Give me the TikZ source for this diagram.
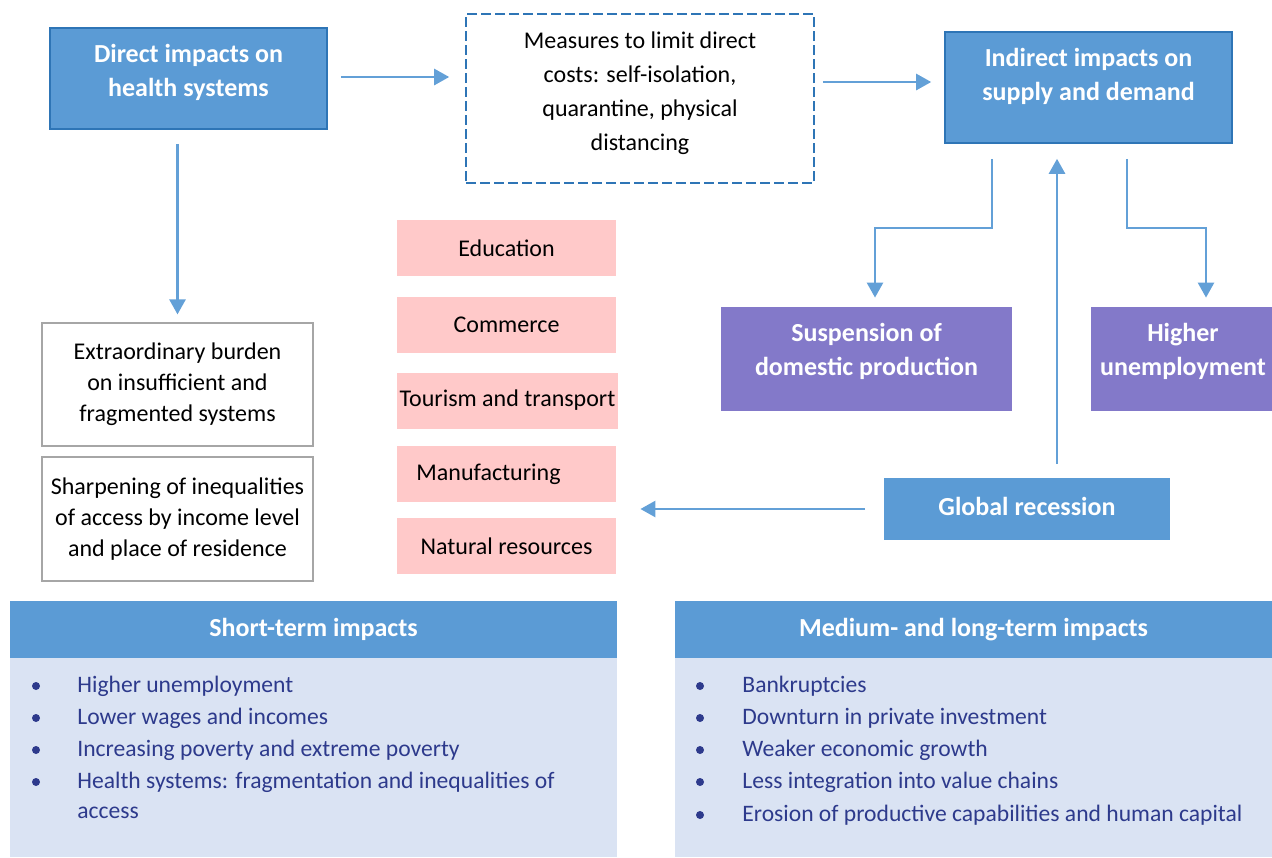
\documentclass[tikz,border=0pt]{standalone}
\usepackage{fontspec}
\setmainfont{Carlito}
\usetikzlibrary{arrows.meta, positioning}

\definecolor{boxblue}{RGB}{91,155,213}
\definecolor{edgeblue}{RGB}{46,117,182}
\definecolor{arrowblue}{RGB}{99,160,215}
\definecolor{purplebox}{RGB}{131,121,201}
\definecolor{pinkbox}{RGB}{255,201,201}
\definecolor{paleblue}{RGB}{218,227,243}
\definecolor{navytext}{RGB}{45,58,140}
\definecolor{greyline}{RGB}{166,166,166}

\begin{document}
\begin{tikzpicture}[x=0.5pt, y=-0.5pt]
        \tikzset{bluebox/.style = {draw=edgeblue, fill=boxblue, line width=0.8pt, inner sep=0pt}}
        \tikzset{violetbox/.style = {fill=purplebox, inner sep=0pt}}
        \tikzset{whitetxt/.style = {text=white, align=center, inner sep=0pt, font=\fontsize{13}{17}\selectfont\bfseries}}
        \tikzset{plainbox/.style = {draw=greyline, fill=white, line width=0.6pt, align=center, font=\fontsize{12}{15.5}\selectfont}}
        \tikzset{sector/.style = {fill=pinkbox, minimum width=109.5pt, minimum height=28pt, inner sep=0pt, font=\fontsize{12}{14}\selectfont}}
        \tikzset{itemtxt/.style = {anchor=west, inner sep=0pt, text=navytext, font=\fontsize{11.8}{14}\selectfont}}
        \tikzset{arr/.style = {draw=arrowblue, line width=1.3pt, -{Triangle[length=7.5pt,width=8pt]}}}

        \useasboundingbox (0,0) rectangle (1272,857);

        % top row
        \node[bluebox, minimum width=138.5pt, minimum height=50.5pt] (direct) at (188.5,78.5) {};
        \node[whitetxt] (directtxt) at (188.5,72) {Direct impacts on\\health systems};
        \node[draw=edgeblue, dash pattern=on 5pt off 2pt, line width=0.8pt, minimum width=174pt, minimum height=84.5pt,
              align=center, font=\fontsize{12}{17}\selectfont] (measures) at (640,98.5) {};
        \node[align=center, inner sep=0pt, font=\fontsize{12}{17}\selectfont] (measurestxt) at (640,93)
              {Measures to limit direct\\costs: self-isolation,\\quarantine, physical\\distancing};
        \node[bluebox, minimum width=143.5pt, minimum height=55.5pt] (indirect) at (1088.5,87.5) {};
        \node[whitetxt] (indirecttxt) at (1088.5,76.5) {Indirect impacts on\\supply and demand};

        % health side
        \node[plainbox, minimum width=135.5pt, minimum height=61.5pt] (burden) at (177.5,384.5)
              {Extraordinary burden\\on insufficient and\\fragmented systems};
        \node[plainbox, minimum width=135.5pt, minimum height=62pt] (inequal) at (177.5,519)
              {Sharpening of inequalities\\of access by income level\\and place of residence};

        % sectors
        \node[sector] (educ) at (506.5,248) {Education};
        \node[sector] (comm) at (506.5,325) {Commerce};
        \node[sector, minimum width=110.5pt] (tour) at (507.5,400.5) {Tourism and transport};
        \node[sector] (manuf) at (506.5,474) {Manufacturing\kern18pt};
        \node[sector] (natres) at (506.5,546) {Natural resources};

        % supply and demand side
        \node[violetbox, minimum width=145.5pt, minimum height=52pt] (suspend) at (866.5,359) {};
        \node[whitetxt] (suspendtxt) at (866.5,351) {Suspension of\\domestic production};
        \node[violetbox, minimum width=90.5pt, minimum height=52pt] (unemp) at (1181.5,359) {};
        \node[whitetxt] (unemptxt) at (1183,351) {Higher\\unemployment};
        \node[bluebox, draw=none, minimum width=143pt, minimum height=31pt] (global) at (1027,509) {};
        \node[whitetxt] (globaltxt) at (1027,506) {Global recession};

        \coordinate (m2i) at ([yshift=2.75pt]indirect.west);
        \coordinate (bendL) at (875,228);
        \coordinate (bendR) at (1206,228);
        \coordinate (gtop) at ([xshift=15pt]global.north);

        % connectors
        \draw[arr, shorten <=6.5pt, shorten >=8pt] ([yshift=0.75pt]direct.east) -- ([yshift=0.75pt]direct.east -| measures.west);
        \draw[arr, shorten <=4pt, shorten >=6.5pt] (m2i -| measures.east) -- (m2i);
        \draw[arr, shorten <=7pt, shorten >=4pt] (burden.north |- direct.south) -- (burden.north);
        \draw[arr, shorten <=7.5pt, shorten >=4.5pt] ([xshift=-48.25pt]indirect.south) |- (bendL) -- (bendL |- suspend.north);
        \draw[arr, shorten <=7.5pt, shorten >=4.5pt] ([xshift=19.25pt]indirect.south) |- (bendR) -- (bendR |- unemp.north);
        \draw[arr, shorten <=6.5pt, shorten >=7.5pt] (gtop) -- (gtop |- indirect.south);
        \draw[arr, shorten <=9pt, shorten >=12pt] (global.west) -- (global.west -| manuf.east);

        % impact panels
        \node[fill=paleblue, minimum width=303.5pt, minimum height=99.5pt, inner sep=0pt] (shortbody) at (313.5,757.5) {};
        \node[bluebox, draw=none, minimum width=303.5pt, minimum height=28.5pt, text=white,
              font=\fontsize{13}{15}\selectfont\bfseries] (shorthead) at (313.5,629.5) {Short-term impacts};
        \node[fill=paleblue, minimum width=298.5pt, minimum height=99.5pt, inner sep=0pt] (longbody) at (973.5,757.5) {};
        \node[bluebox, draw=none, minimum width=298.5pt, minimum height=28.5pt, text=white,
              font=\fontsize{13}{15}\selectfont\bfseries] (longhead) at (973.5,629.5) {Medium- and long-term impacts};

        \foreach \y/\txt [count=\i] in {686/Higher unemployment, 718/Lower wages and incomes,
            750/Increasing poverty and extreme poverty, 782/Health systems: fragmentation and inequalities of}
        {
            \fill[navytext] (36,\y) circle (2pt);
            \node[itemtxt] (short\i) at (77,\y) {\txt};
        }
        \node[itemtxt] (short5) at (77,813) {access};

        \foreach \y/\txt [count=\i] in {686/Bankruptcies, 718/Downturn in private investment,
            750/Weaker economic growth, 782/Less integration into value chains,
            815/Erosion of productive capabilities and human capital}
        {
            \fill[navytext] (700,\y) circle (2pt);
            \node[itemtxt] (long\i) at (742,\y) {\txt};
        }
      \end{tikzpicture}
\end{document}
